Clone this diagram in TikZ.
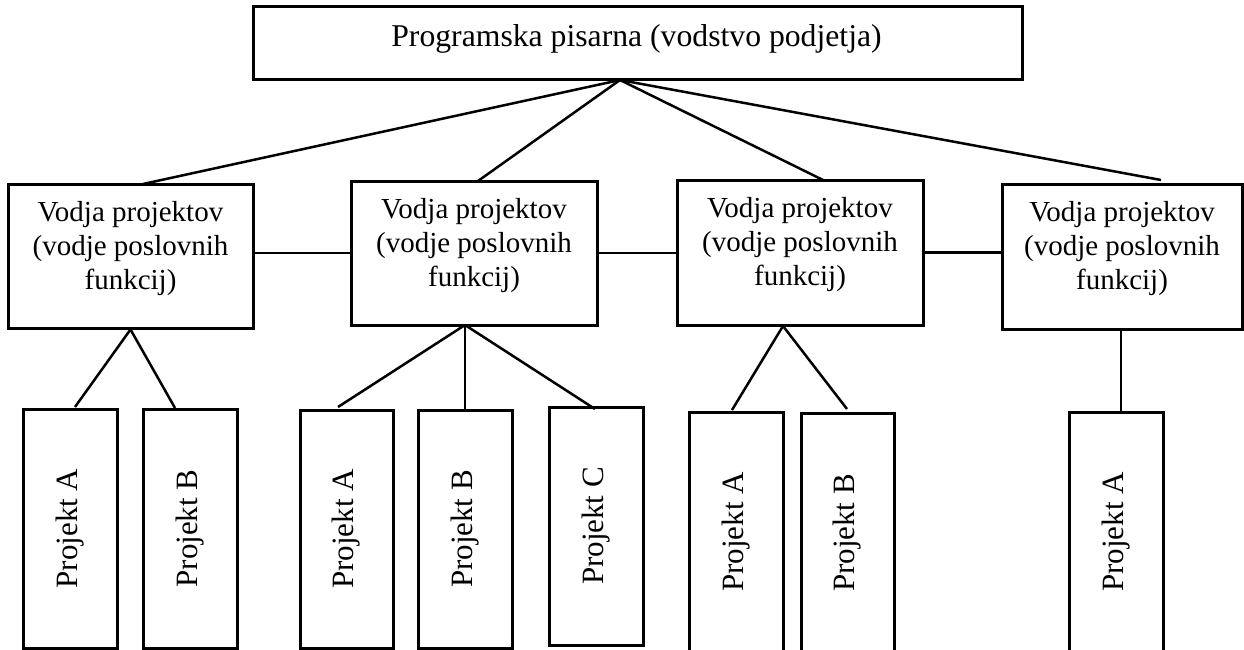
\documentclass[tikz,border=0pt]{standalone}
\usepackage{fontspec}
\setmainfont{Liberation Serif}
\usetikzlibrary{calc}
\begin{document}
\begin{tikzpicture}[x=1pt,y=-1pt,
  box/.style={draw, line width=3pt, rectangle, inner sep=0pt},
  link/.style={draw, line width=2.5pt},
  toptext/.style={font=\fontsize{31.7}{36}\selectfont, inner sep=0pt},
  mtext/.style={font=\fontsize{29}{34}\selectfont, align=center, inner sep=0pt},
  proj/.style={draw, line width=3pt, rectangle, rotate=90, inner sep=0pt, font=\fontsize{31}{36}\selectfont}
]
\useasboundingbox (0,0) rectangle (1244,650);
\clip (0,0) rectangle (1244,650);

% top box
\node[box, minimum width=769pt, minimum height=73pt] (top) at (637.5,43.5) {};
\node[toptext, anchor=base] (toplabel) at (636.5,47) {Programska pisarna (vodstvo podjetja)};

% managers
\node[box, minimum width=245pt, minimum height=144pt] (m1) at (130.5,256) {};
\node[box, minimum width=246pt, minimum height=144pt] (m2) at (474,253) {};
\node[box, minimum width=246pt, minimum height=145pt] (m3) at (800,252.5) {};
\node[box, minimum width=240pt, minimum height=145pt] (m4) at (1122,256.5) {};
\node[mtext] (m1t) at (130.5,249) {Vodja projektov\\(vodje poslovnih\\funkcij)};
\node[mtext] (m2t) at (474,246) {Vodja projektov\\(vodje poslovnih\\funkcij)};
\node[mtext] (m3t) at (800,245) {Vodja projektov\\(vodje poslovnih\\funkcij)};
\node[mtext] (m4t) at (1122,249) {Vodja projektov\\(vodje poslovnih\\funkcij)};

% projects
\node[proj, minimum width=239pt, minimum height=94pt] (p1a) at (70,528.5) {Projekt A};
\node[proj, minimum width=239pt, minimum height=94pt] (p1b) at (190,528.5) {Projekt B};
\node[proj, minimum width=238pt, minimum height=93pt] (p2a) at (346.5,529) {Projekt A};
\node[proj, minimum width=238pt, minimum height=94pt] (p2b) at (465,529) {Projekt B};
\node[proj, minimum width=238pt, minimum height=94pt] (p2c) at (596,526) {Projekt C};
\node[proj, minimum width=240pt, minimum height=94pt] (p3a) at (736,532) {Projekt A};
\node[proj, minimum width=240pt, minimum height=93pt] (p3b) at (847.5,533) {Projekt B};
\node[proj, minimum width=240pt, minimum height=94pt] (p4a) at (1116,532) {Projekt A};

% connector points
\coordinate (apex) at (620,80);
\coordinate (t1) at (143,184);
\coordinate (t2) at (478,181);
\coordinate (t3) at (823,180);
\coordinate (t4) at (1161,180);
\coordinate (a2) at (465,325);
\coordinate (a3) at (783,326);
\coordinate (a4) at (1121,329);
\coordinate (e1a) at (75,407);
\coordinate (e1b) at (175,408);
\coordinate (e2a) at (338,407);
\coordinate (e2c) at (595,409);
\coordinate (e3a) at (732,410);
\coordinate (e3b) at (847,409);
\coordinate (e4a) at (1121,412);

% top connectors
\draw[link] (apex) -- (t1);
\draw[link] (apex) -- (t2);
\draw[link] (apex) -- (t3);
\draw[link] (apex) -- (t4);

% horizontal connectors
\draw[link] (m2.west -| m1.east) -- (m2.west);
\draw[link] (m2.east) -- (m2.east -| m3.west);
\draw[link] (m3.east) -- (m3.east -| m4.west);

% bottom connectors
\draw[link] (m1.south) -- (e1a);
\draw[link] (m1.south) -- (e1b);
\draw[link] (a2) -- (e2a);
\draw[link] (a2) -- (p2b.east);
\draw[link] (a2) -- (e2c);
\draw[link] (a3) -- (e3a);
\draw[link] (a3) -- (e3b);
\draw[link] (a4) -- (e4a);
\end{tikzpicture}
\end{document}
